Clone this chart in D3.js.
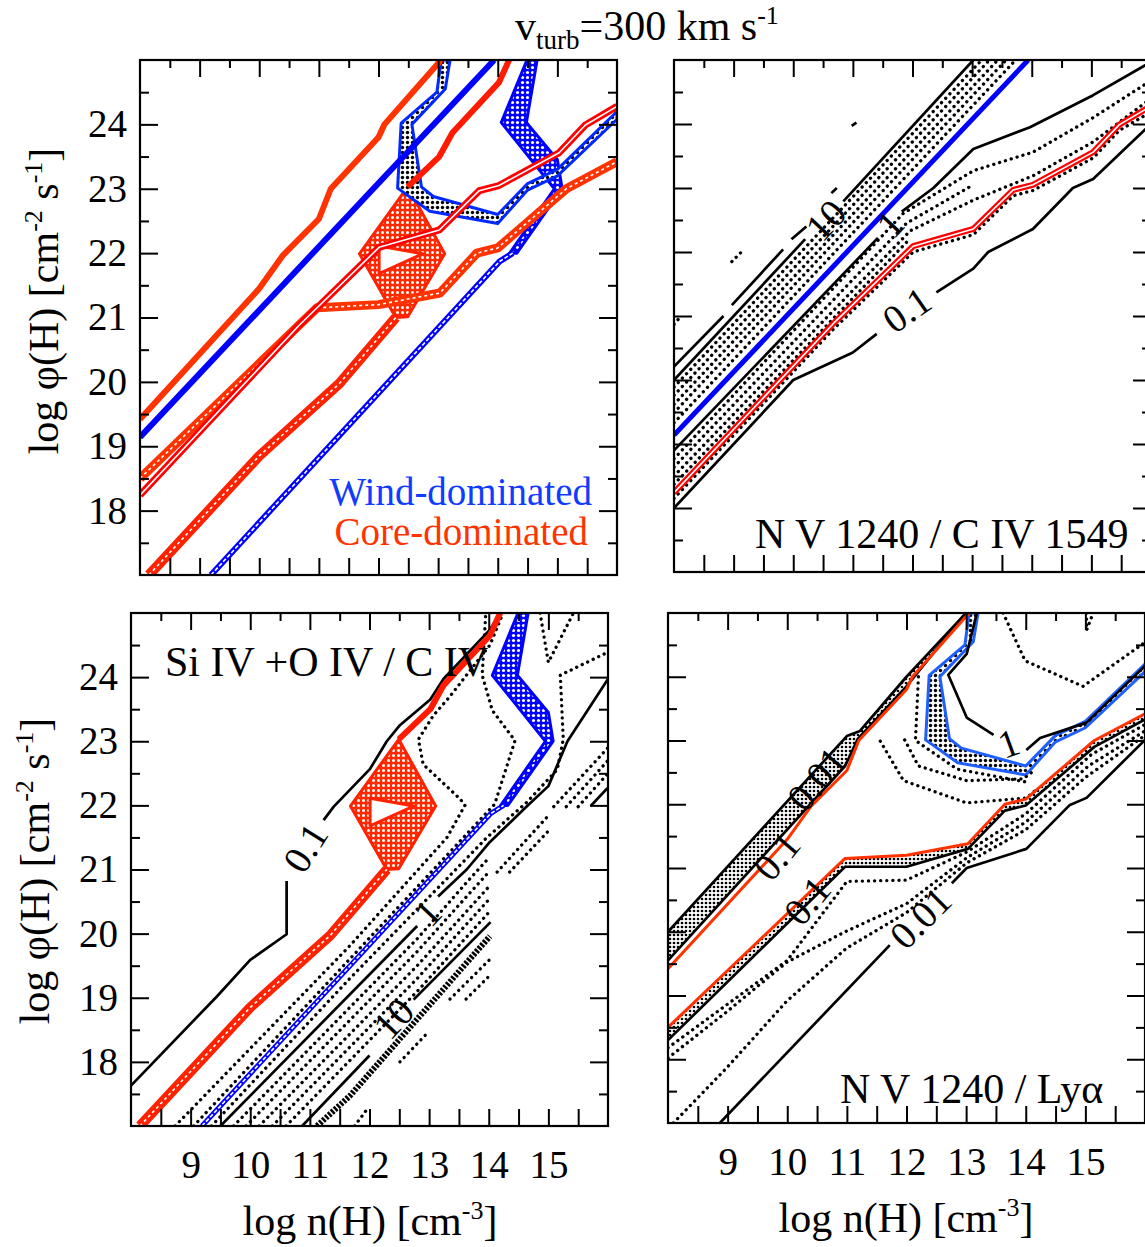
<!DOCTYPE html>
<html><head><meta charset="utf-8">
<script src="https://cdn.jsdelivr.net/npm/d3@7"></script>
<style>body{margin:0;background:#fff} text{font-family:"Liberation Serif","Times New Roman",serif}</style>
</head><body><svg id="c" width="1145" height="1247"></svg>
<script>
// ---------- axes ----------
const xDomain = [8, 16];            // log n(H)
const yDomain = [17, 25];           // log phi(H)
const xTickLabels = [9, 10, 11, 12, 13, 14, 15];
const yTickLabels = [18, 19, 20, 21, 22, 23, 24];

// ---------- N V 1240 / C IV 1549 ----------
const trBlue = [[8,19.14],[13.94,25]];
const trRed = [[8,18.24],[10.67,20.88],[12.01,22.09],[13.02,22.36],[13.69,22.97],[14.02,23.05],[15.03,23.56],[15.47,23.99],[16,24.28]];
const trRedDots = [[8,18.15],[10.67,20.79],[12.01,22.0],[13.02,22.27],[13.69,22.88],[14.02,22.96],[15.03,23.47],[15.47,23.9],[16,24.19]];
const trLevel10 = [[[8,20.0],[10.2,22.2]],[[10.84,22.79],[13.02,25]]];
const trLevel1 = [[[8,18.9],[11.42,22.22]],[[11.82,22.63],[12.35,23.0],[13.02,23.61],[13.97,23.95],[15.03,24.45],[16,24.97]]];
const trLevel01 = [[[8,18.0],[10.0,20.0],[11.0,20.43],[11.4,20.72]],[[12.4,21.37],[13.02,21.74],[13.27,22.0],[14.02,22.36],[14.69,23.0],[15.03,23.14],[16,24.0]]];
const trDashes = [[[8,20.21],[8.83,21.0]],[[8.97,21.17],[9.83,22.04]],[[9.97,22.2],[10.22,22.4]],[[10.64,22.92],[10.73,23.0]],[[10.98,23.97],[11.06,24.02]]];
const trDotted = [
  [[8,19.89],[13.16,25]],
  [[8,19.76],[13.29,25]],
  [[8,19.62],[13.43,25]],
  [[8,19.49],[13.57,25]],
  [[8,19.33],[13.73,25]],
  [[8,18.77],[11.84,22.6],[13.02,23.27],[14.02,23.56],[15.03,24.1],[16,24.68]],
  [[8,18.64],[11.9,22.45],[13.02,23.05]],
  [[8,18.5],[11.96,22.33],[13.02,22.81],[14.02,23.19],[15.03,23.72],[16,24.4]],
  [[8,18.37],[11.95,22.2]],
  [[8,20.87],[8.12,21.0]],
  [[8.97,21.85],[9.13,22.0]]
];
const trLabels = [["10",10.54,22.5,-47],["1",11.62,22.44,-47],["0.1",11.9,21.1,-35]];

// ---------- Si IV + O IV / C IV ----------
const blRedBand = [[8.15,17],[10,18.85],[11.34,19.97],[12.29,21.0]];
const blRedTop = [[12.49,23.03],[13.02,23.5],[13.24,23.87],[14.02,24.65],[14.19,25]];
const blRedPoly = [[11.68,21.99],[12.49,23.03],[13.11,21.99],[12.49,21.01],[12.29,21.0]];
const blRedHole = [[12.01,22.11],[12.74,21.99],[12.01,21.68]];
const blBlueLine = [[9.19,17],[14.03,21.87],[14.25,22.0]];
const blBlueRegion = [[14.49,25],[14.06,24.03],[14.95,23.0],[14.2,22.0],[14.32,22.0],[15.08,23.0],[15.0,23.45],[14.48,24.03],[14.66,25]];
const blLevel01 = [[[8,17.63],[9.44,19.02],[10.0,19.59],[10.61,19.99],[10.61,20.82]],[[11.23,21.77],[11.4,21.98],[12.01,22.57],[12.29,23.0],[12.51,23.25],[13.02,23.65],[13.24,23.97],[14.02,24.74],[14.19,25]]];
const blLevel1 = [[[9.5,17],[12.8,20.12]],[[13.15,20.58],[13.63,21.0],[14.02,21.43],[14.6,21.95],[15.0,22.3],[15.32,23.0],[16,23.97]]];
const blLevel10 = [[[10.87,17],[12.0,18.1]],[[12.74,18.97],[14.03,20.18]]];
const blDense = [[11.12,17],[11.67,17.47],[14.02,19.96]];
const blSolidFrag = [[[15.71,21.99],[15.99,22.27]]];
const blDotted = [
  [[8.74,17],[11.67,19.81],[13.3,21.5],[13.6,22.0],[13.52,22.1],[12.9,22.64],[12.82,23.03],[13.07,23.4],[13.35,23.7],[14.02,24.5],[14.24,25]],
  [[9.05,17],[14.1,22.02],[14.44,23.01],[14.06,23.48],[13.89,24.03],[13.95,25]],
  [[9.35,17],[11.67,19.3],[13.97,21.5],[14.64,22.05],[15.15,22.56],[15.25,23.03],[15.2,24.03],[16,24.39]],
  [[14.86,25],[15.0,24.23],[15.42,25]],
  [[9.72,17],[12.8,19.92],[13.63,20.8],[14.02,21.2]],
  [[9.93,17],[12.8,19.72],[13.63,20.58],[14.02,20.98]],
  [[10.15,17],[12.8,19.5],[13.63,20.35],[14.02,20.75]],
  [[10.37,17],[12.8,19.3],[13.63,20.15],[14.02,20.55]],
  [[10.6,17],[12.8,19.1],[13.63,19.95],[14.02,20.35]],
  [[13.35,18.98],[14.02,19.6]],
  [[13.62,18.98],[14.02,19.35]],
  [[12.51,18.0],[12.98,18.46]],
  [[11.75,17],[11.95,17.25]],
  [[14.14,20.96],[14.98,21.82]],
  [[14.35,20.96],[15.0,21.6]],
  [[15.09,21.98],[16,22.9]],
  [[15.3,21.98],[16,22.7]],
  [[15.5,21.98],[16,22.5]]
];
const blLabels = [["0.1",10.92,21.34,-58],["1",12.97,20.33,-47],["10",12.4,18.68,-47]];

// ---------- N V 1240 / Ly alpha ----------
const brLineTop = [[8,20.0],[11.0,23.07],[11.22,23.15],[12.0,24.0],[13.0,25]];
const brLineTop2 = [[8,19.55],[10.97,22.6],[11.18,23.02],[12.0,23.85],[12.95,24.95],[13.0,25]];
const brRedUp = [[8,19.42],[10,21.45],[10.4,21.97],[11,22.53],[11.2,23.0],[12,23.8],[12.1,24.0],[13.05,25]];
const brRedLow = [[8,18.5],[10.97,21.15],[12.0,21.2],[13.03,21.38],[13.65,22.0],[14.0,22.08],[15.15,23.0],[16,23.42]];
const brLineLow = [[8,18.3],[10.97,21.02],[12.0,21.02],[13.03,21.3],[13.65,21.9],[14.0,21.98],[15.15,22.9],[16,23.33]];
const brLevel001 = [[[8.87,17],[11.72,19.79]],[[12.76,20.76],[13.01,21.0],[14.01,21.3],[14.74,21.99],[15.02,22.1],[16,23.01]]];
const brLevel1 = [[[13.18,25],[13.01,24.36],[12.7,24.03],[13.01,23.36],[13.46,23.09]],[[14.01,22.85],[14.24,23.04],[15.02,23.28],[16,24.17]]];
const brBlueRegion = [[13.05,25],[12.98,24.5],[12.38,24.02],[12.32,23.01],[12.86,22.65],[14.0,22.46],[14.5,22.98],[15.0,23.2],[16,24.08],[16,24.2],[15.0,23.3],[14.5,23.08],[14.0,22.6],[12.92,22.88],[12.72,23.03],[12.56,24.0],[13.12,24.55],[13.2,25]];
const brDotted = [
  [[8,18.18],[10,19.55],[11.0,20.79],[12.0,20.81],[13.01,21.25],[14.0,21.85],[15.1,22.78],[16,23.25]],
  [[8,18.02],[8.98,18.74],[9.99,19.52],[10.97,20.0],[12.0,20.44],[13.01,21.16],[14.0,21.72],[15.05,22.6],[16,23.15]],
  [[8.09,17],[8.98,17.86],[9.99,18.91],[10.99,19.74],[12.0,20.3],[13.01,21.08],[14.0,21.6],[15.0,22.42],[16,23.08]],
  [[11.56,22.99],[11.95,22.37],[13.01,22.02],[14.01,22.1],[14.18,22.23]],
  [[11.97,23.01],[12.2,22.6],[13.01,22.37],[13.96,22.4],[14.1,22.5]],
  [[12.2,24.0],[12.15,23.0],[12.85,22.55],[14.0,22.35]],
  [[13.62,25],[13.99,24.25],[14.96,23.85],[16,24.54]],
  [[15.02,25],[15.02,24.73],[15.13,25]]
];
const brLabels = [["0.01",10.49,22.4,-50],["0.1",9.82,21.19,-50],["0.1",10.33,20.49,-50],["0.01",12.23,20.22,-45],["1",13.71,22.96,-20]];

// ---------- layout ----------
const P = {
  tl: {x0:140, y0:60, w:477, h:515},
  tr: {x0:674, y0:60, w:477, h:512},
  bl: {x0:131, y0:613, w:477, h:513},
  br: {x0:668, y0:613, w:477, h:510}
};

const svg = d3.select('#c');
const defs = svg.append('defs');
function pat(id, size, bg, dot, r){
  const p = defs.append('pattern').attr('id',id).attr('width',size).attr('height',size).attr('patternUnits','userSpaceOnUse');
  if (bg) p.append('rect').attr('width',size).attr('height',size).attr('fill',bg);
  p.append('circle').attr('cx',size/2).attr('cy',size/2).attr('r',r).attr('fill',dot);
}
pat('redMesh',5,'#ff2a00','#fff',1.5);
pat('blueMesh',5,'#0000ff','#fff',1.6);
pat('blackDots',4,null,'#000',1.35);
pat('blackDotsBig',5,'#fff','#000',1.7);

function makePanel(key){
  const p = P[key];
  const g = svg.append('g').attr('transform',`translate(${p.x0},${p.y0})`);
  const x = d3.scaleLinear().domain(xDomain).range([0,p.w]);
  const y = d3.scaleLinear().domain(yDomain).range([p.h,0]);
  defs.append('clipPath').attr('id','clip-'+key).append('rect').attr('width',p.w).attr('height',p.h);
  const inner = g.append('g').attr('clip-path',`url(#clip-${key})`);
  const line = d3.line().x(d=>x(d[0])).y(d=>y(d[1]));
  return {g, inner, x, y, line, p};
}
function stroke(Q, pts, color, w, extra){
  const el = Q.inner.append('path').attr('d',Q.line(pts)).attr('fill','none')
    .attr('stroke',color).attr('stroke-width',w).attr('stroke-linejoin','round');
  if (extra) for (const k in extra) el.attr(k, extra[k]);
  return el;
}
const dotted = (Q,pts) => stroke(Q,pts,'#000',3.3,{'stroke-dasharray':'0.1 6','stroke-linecap':'round'});
const dense = (Q,pts) => stroke(Q,pts,'#000',6,{'stroke-dasharray':'2.5 1.5'});
const solid = (Q,pts) => stroke(Q,pts,'#000',2.7);
function band(Q, pts, color, w, dash){
  stroke(Q,pts,color,w);
  stroke(Q,pts,'#fff',1.6, dash ? {'stroke-dasharray':dash} : null);
}
function region(Q, pts, fill, color, w, hole){
  let d = Q.line(pts)+'Z';
  if (hole) d += Q.line(hole)+'Z';
  Q.inner.append('path').attr('d',d).attr('fill',fill).attr('fill-rule','evenodd')
    .attr('stroke',color).attr('stroke-width',w).attr('stroke-linejoin','round');
}
function hatchBetween(Q, a, b){
  const pts = a.concat(b.slice().reverse());
  Q.inner.append('path').attr('d',Q.line(pts)+'Z').attr('fill','url(#blackDots)');
}
function labels(Q, arr, size){
  arr.forEach(([t,xv,yv,rot]) => {
    Q.g.append('text').attr('transform',`translate(${Q.x(xv)},${Q.y(yv)}) rotate(${rot})`)
      .attr('text-anchor','middle').attr('dy','0.35em').attr('font-size',size||39).text(t);
  });
}
function axes(Q, showX, showY){
  const {g,x,y,p} = Q;
  const isMaj = v => Math.abs(v-Math.round(v))<1e-6;
  const xs = d3.range(8.5,16,0.5), ys = d3.range(17.5,25,0.5);
  const xMaj = xs.filter(isMaj), xMin = xs.filter(v=>!isMaj(v));
  const yMaj = ys.filter(isMaj), yMin = ys.filter(v=>!isMaj(v));
  const style = sel => {
    sel.select('.domain').remove();
    sel.selectAll('line').attr('stroke','#000').attr('stroke-width',2);
    sel.selectAll('text').attr('font-size',39).attr('fill','#000').attr('font-family','Liberation Serif, serif');
  };
  g.append('g').attr('transform',`translate(0,${p.h})`)
    .call(d3.axisBottom(x).tickValues(xs).tickSize(-17).tickPadding(0)
      .tickFormat(v => showX && xTickLabels.includes(v) ? String(v) : ''))
    .call(style).call(s => s.selectAll('text').attr('y',52).attr('dy',null));
  g.append('g').call(d3.axisTop(x).tickValues(xMaj).tickSize(-17).tickFormat('')).call(style);
  g.append('g').call(d3.axisTop(x).tickValues(xMin).tickSize(-8).tickFormat('')).call(style);
  g.append('g').call(d3.axisLeft(y).tickValues(yMaj).tickSize(-18).tickPadding(13)
      .tickFormat(v => showY && yTickLabels.includes(v) ? String(v) : '')).call(style);
  g.append('g').call(d3.axisLeft(y).tickValues(yMin).tickSize(-9).tickFormat('')).call(style);
  g.append('g').attr('transform',`translate(${p.w},0)`).call(d3.axisRight(y).tickValues(yMaj).tickSize(-18).tickFormat('')).call(style);
  g.append('g').attr('transform',`translate(${p.w},0)`).call(d3.axisRight(y).tickValues(yMin).tickSize(-9).tickFormat('')).call(style);
  g.append('rect').attr('width',p.w).attr('height',p.h).attr('fill','none').attr('stroke','#000').attr('stroke-width',2.2);
}

// ---------- top-left: overlay ----------
{
  const Q = makePanel('tl');
  region(Q, blRedPoly, 'url(#redMesh)', '#ff2200', 3, blRedHole);
  region(Q, blBlueRegion, 'url(#blueMesh)', '#0000ff', 3);
  region(Q, brBlueRegion, 'url(#blackDotsBig)', '#0028ff', 3);
  band(Q, blRedBand, '#ff2200', 10, '3 3');
  stroke(Q, blRedTop, '#ff1a00', 6);
  band(Q, brRedLow, '#ff3300', 9, '3 3');
  stroke(Q, brRedUp, '#ff3300', 6);
  stroke(Q, trBlue, '#0000ff', 6);
  band(Q, trRed, '#ff0000', 7, null);
  band(Q, blBlueLine, '#0000ff', 6, '4 2');
  axes(Q, false, true);
  Q.g.append('text').attr('x',452).attr('y',445).attr('text-anchor','end').attr('font-size',39).attr('fill','#0f3cff').text('Wind-dominated');
  Q.g.append('text').attr('x',448).attr('y',485).attr('text-anchor','end').attr('font-size',39).attr('fill','#ff3300').text('Core-dominated');
}
// ---------- top-right ----------
{
  const Q = makePanel('tr');
  trDotted.forEach(d => dotted(Q,d));
  dotted(Q, trRedDots);
  trLevel10.forEach(d => solid(Q,d));
  trLevel1.forEach(d => solid(Q,d));
  trLevel01.forEach(d => solid(Q,d));
  trDashes.forEach(d => solid(Q,d));
  stroke(Q, trBlue, '#0000ff', 5);
  band(Q, trRed, '#ff0000', 6, null);
  labels(Q, trLabels);
  axes(Q, false, false);
  Q.g.append('text').attr('x',81).attr('y',488).attr('font-size',42).text('N V 1240 / C IV 1549');
}
// ---------- bottom-left ----------
{
  const Q = makePanel('bl');
  region(Q, blRedPoly, 'url(#redMesh)', '#ff2200', 3, blRedHole);
  region(Q, blBlueRegion, 'url(#blueMesh)', '#0000ff', 3);
  blDotted.forEach(d => dotted(Q,d));
  dense(Q, blDense);
  blLevel01.forEach(d => solid(Q,d));
  blLevel1.forEach(d => solid(Q,d));
  blLevel10.forEach(d => solid(Q,d));
  blSolidFrag.forEach(d => solid(Q,d));
  band(Q, blRedBand, '#ff2200', 10, '3 3');
  stroke(Q, blRedTop, '#ff1a00', 6);
  band(Q, blBlueLine, '#0000ff', 5, '4 2');
  labels(Q, blLabels);
  axes(Q, true, true);
  Q.g.append('text').attr('x',34).attr('y',63).attr('font-size',42).text('Si IV +O IV / C IV');
}
// ---------- bottom-right ----------
{
  const Q = makePanel('br');
  hatchBetween(Q, brLineTop, brLineTop2);
  hatchBetween(Q, brRedLow, brLineLow);
  region(Q, brBlueRegion, 'url(#blackDotsBig)', '#1f5fff', 3);
  brDotted.forEach(d => dotted(Q,d));
  solid(Q, brLineTop); solid(Q, brLineTop2); solid(Q, brLineLow);
  brLevel001.forEach(d => solid(Q,d));
  brLevel1.forEach(d => solid(Q,d));
  stroke(Q, brRedUp, '#ff3300', 3);
  stroke(Q, brRedLow, '#ff3300', 3);
  labels(Q, brLabels);
  axes(Q, true, false);
  Q.g.append('text').attr('x',172).attr('y',490).attr('font-size',42).text('N V 1240 / Lyα');
}

// ---------- titles ----------
function yTitle(cx, cy){
  const t = svg.append('text').attr('transform',`translate(${cx},${cy}) rotate(-90)`).attr('text-anchor','middle').attr('font-size',42);
  t.append('tspan').text('log φ(H) [cm');
  t.append('tspan').attr('font-size',26).attr('dy',-16).text('-2');
  t.append('tspan').attr('dy',16).text(' s');
  t.append('tspan').attr('font-size',26).attr('dy',-16).text('-1');
  t.append('tspan').attr('dy',16).text(']');
}
function xTitle(cx, cy){
  const t = svg.append('text').attr('x',cx).attr('y',cy).attr('text-anchor','middle').attr('font-size',42);
  t.append('tspan').text('log n(H) [cm');
  t.append('tspan').attr('font-size',26).attr('dy',-16).text('-3');
  t.append('tspan').attr('dy',16).text(']');
}
yTitle(58, 301);
yTitle(49, 871);
xTitle(370, 1235);
xTitle(906, 1232);
{
  const t = svg.append('text').attr('x',515).attr('y',40).attr('font-size',42);
  t.append('tspan').text('v');
  t.append('tspan').attr('font-size',27).attr('dy',9).text('turb');
  t.append('tspan').attr('dy',-9).text('=300 km s');
  t.append('tspan').attr('font-size',26).attr('dy',-16).text('-1');
}
</script></body></html>
